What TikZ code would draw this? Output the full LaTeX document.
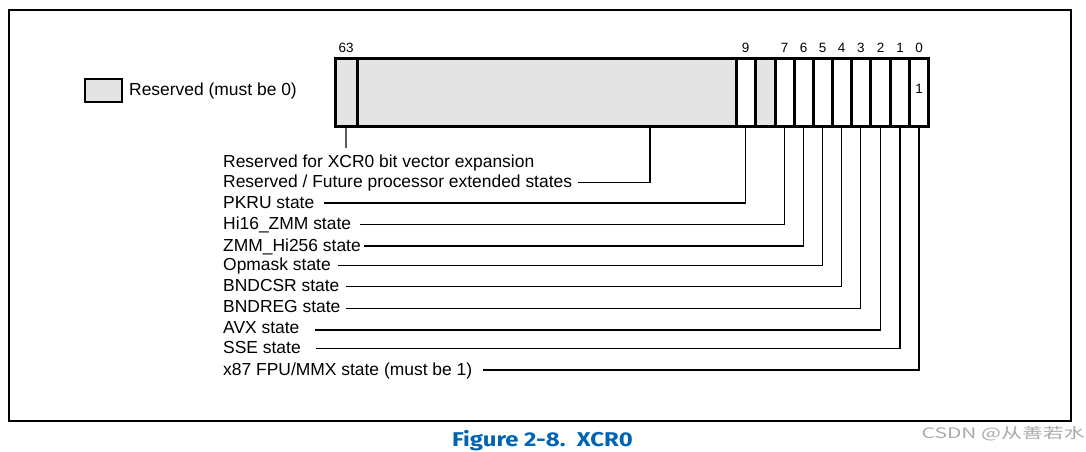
\documentclass[tikz,border=0pt]{standalone}
\usepackage{fontspec}
\usepackage{graphicx}
\setmainfont{Liberation Sans}
\newfontfamily\capfont{Fira Sans}
\newfontfamily\cjkfont{Noto Sans CJK SC}
\definecolor{resgray}{RGB}{228,228,228}
\definecolor{intelblue}{RGB}{0,100,176}
\definecolor{wmgray}{RGB}{170,170,170}
\tikzset{
  cell/.style={draw, line width=3bp, inner sep=0pt, outer sep=0pt, minimum height=68bp, anchor=north west},
  rescell/.style={cell, fill=resgray},
  bitnum/.style={font=\fontsize{13.5}{15}\selectfont, inner sep=0pt, anchor=base},
  lab/.style={font=\fontsize{17.5}{20}\selectfont, inner sep=0pt, anchor=base west},
  lead/.style={line width=1.4bp},
  legendbox/.style={draw, fill=resgray, line width=1.5bp, inner sep=0pt, minimum width=37bp, minimum height=23bp},
}
\begin{document}
\begin{tikzpicture}[x=1bp,y=-1bp]
\useasboundingbox (0,0) rectangle (1086,452);
% outer frame
\draw[line width=2.5bp] (9,10) rectangle (1071,421);
% legend
\node[legendbox] (leg) at (103.5,90.75) {};
\node[lab, anchor=west] (legtxt) at (129,91) {Reserved (must be 0)};
% register cells
\node[rescell, minimum width=22bp]  (b63) at (335,59) {};
\node[rescell, minimum width=379bp] (res) at (357,59) {};
\node[cell, minimum width=19bp]     (b9)  at (736,59) {};
\node[rescell, minimum width=20bp]  (b8)  at (755,59) {};
\node[cell, minimum width=19bp]     (b7)  at (775,59) {};
\node[cell, minimum width=19bp]     (b6)  at (794,59) {};
\node[cell, minimum width=19bp]     (b5)  at (813,59) {};
\node[cell, minimum width=19bp]     (b4)  at (832,59) {};
\node[cell, minimum width=19.5bp]   (b3)  at (851,59) {};
\node[cell, minimum width=20bp]     (b2)  at (870.5,59) {};
\node[cell, minimum width=19bp]     (b1)  at (890.5,59) {};
\node[cell, minimum width=19bp]     (b0)  at (909.5,59) {};
% bit numbers
\coordinate (nr) at (0,52.8);
\node[bitnum] (n63) at (b63.north |- nr) {63};
\node[bitnum] (n9) at (b9.north |- nr) {9};
\node[bitnum] (n7) at (b7.north |- nr) {7};
\node[bitnum] (n6) at (b6.north |- nr) {6};
\node[bitnum] (n5) at (b5.north |- nr) {5};
\node[bitnum] (n4) at (b4.north |- nr) {4};
\node[bitnum] (n3) at (b3.north |- nr) {3};
\node[bitnum] (n2) at (b2.north |- nr) {2};
\node[bitnum] (n1) at (b1.north |- nr) {1};
\node[bitnum] (n0) at (b0.north |- nr) {0};
\coordinate (vr) at (0,94);
\node[bitnum] (v0) at (b0.center |- vr) {1};
% labels
\node[lab] (lExp)  at (223,167.5) {Reserved for XCR0 bit vector expansion};
\node[lab] (lFut)  at (223,188)   {Reserved / Future processor extended states};
\node[lab] (lPK)   at (223,208.3) {PKRU state};
\node[lab] (lHi16) at (223,229.6) {Hi16\_ZMM state};
\node[lab] (lZH)   at (223,251.2) {ZMM\_Hi256 state};
\node[lab] (lOp)   at (223,270.8) {Opmask state};
\node[lab] (lBC)   at (223,291.8) {BNDCSR state};
\node[lab] (lBR)   at (223,313)   {BNDREG state};
\node[lab] (lAVX)  at (223,333.8) {AVX state};
\node[lab] (lSSE)  at (223,353.5) {SSE state};
\node[lab] (lX87)  at (223,375.2) {x87 FPU/MMX state (must be 1)};
% connector end points
\coordinate (e63) at (346,148);
\coordinate (tRes) at (650,127);
\coordinate (sFut) at (578,182.7);
\coordinate (sPK)  at (324,203);
\coordinate (sHi16) at (360,224.3);
\coordinate (sZH)  at (364,246);
\coordinate (sOp)  at (338,265.3);
\coordinate (sBC)  at (346,286.7);
\coordinate (sBR)  at (346,308.3);
\coordinate (sAVX) at (315,330);
\coordinate (sSSE) at (316,348.3);
\coordinate (sX87) at (483,370);
% connectors
\draw[lead] (b63.south) -- (e63);
\draw[lead] (sFut) -| (tRes);
\draw[lead] (sPK) -| (b9.south);
\draw[lead] (sHi16) -| (b7.south);
\draw[lead] (sZH) -| (b6.south);
\draw[lead] (sOp) -| (b5.south);
\draw[lead] (sBC) -| (b4.south);
\draw[lead] (sBR) -| (b3.south);
\draw[lead] (sAVX) -| (b2.south);
\draw[lead] (sSSE) -| (b1.south);
\draw[lead] (sX87) -| (b0.south);
% caption
\node[text=intelblue, font=\capfont\bfseries\fontsize{20}{22}\selectfont, inner sep=0pt, anchor=base] (cap) at (542.5,446.7) {\scalebox{1.2}[1]{Figure 2-8.\ \ XCR0}};
% watermark
\node[text=wmgray, font=\cjkfont\fontsize{14.5}{16}\selectfont, inner sep=0pt, anchor=base west] (wm) at (921.5,438) {\scalebox{1.45}[1]{CSDN @从善若水}};
\end{tikzpicture}
\end{document}
